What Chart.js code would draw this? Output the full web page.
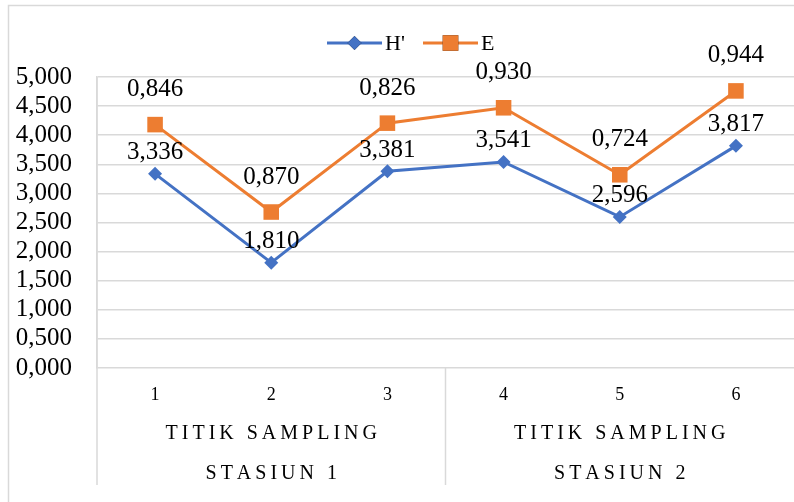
<!DOCTYPE html>
<html>
<head>
<meta charset="utf-8">
<script src="https://cdn.jsdelivr.net/npm/chart.js@4"></script>
<style>
  html, body { margin: 0; padding: 0; background: #fff; }
  #wrap { width: 794px; height: 502px; }
</style>
</head>
<body>
<div id="wrap"><canvas id="chart" width="794" height="502"></canvas></div>
<script>
// data
const titik = ['1', '2', '3', '4', '5', '6'];
const stasiun = ['STASIUN 1', 'STASIUN 2'];
const groupName = 'TITIK SAMPLING';
const groupSize = [3, 3];
const hValues = [3.336, 1.810, 3.381, 3.541, 2.596, 3.817];
const eValues = [0.846, 0.870, 0.826, 0.930, 0.724, 0.944];

const serif = '"Liberation Serif", "Times New Roman", serif';
const gridColour = '#d9d9d9';

function komma(v) {
  return Number(v).toFixed(3).replace('.', ',');
}

// tekst met letterafstand tekenen (voor de categorie-groepen)
function spacedText(ctx, text, cx, cy, spacing) {
  let total = 0;
  const widths = [];
  for (const ch of text) {
    const w = ctx.measureText(ch).width;
    widths.push(w);
    total += w;
  }
  total += spacing * (text.length - 1);
  let x = cx - total / 2;
  ctx.textAlign = 'left';
  let i = 0;
  for (const ch of text) {
    ctx.fillText(ch, x, cy);
    x += widths[i] + spacing;
    i++;
  }
}

const framePlugin = {
  id: 'frame',
  beforeDraw(chart) {
    const ctx = chart.ctx;
    ctx.save();
    ctx.strokeStyle = gridColour;
    ctx.lineWidth = 1.5;
    ctx.beginPath();
    ctx.moveTo(8.5, 510);
    ctx.lineTo(8.5, 5.5);
    ctx.lineTo(800, 5.5);
    ctx.stroke();
    ctx.restore();
  },
  afterDraw(chart) {
    const ctx = chart.ctx;
    const area = chart.chartArea;
    const x = chart.scales.x;
    const bottom = 485;
    ctx.save();
    ctx.strokeStyle = gridColour;
    ctx.lineWidth = 1.5;

    // linker as loopt door tot onder de groepen
    ctx.beginPath();
    ctx.moveTo(area.left, area.top);
    ctx.lineTo(area.left, bottom);
    ctx.stroke();

    // groepen
    let start = 0;
    ctx.fillStyle = '#000';
    ctx.textBaseline = 'middle';
    for (let g = 0; g < groupSize.length; g++) {
      const end = start + groupSize[g] - 1;
      const x1 = x.getPixelForValue(start);
      const x2 = x.getPixelForValue(end);
      const mid = (x1 + x2) / 2;
      ctx.font = '20px ' + serif;
      spacedText(ctx, groupName, mid, 434, 4);
      spacedText(ctx, stasiun[g], mid, 474, 4);
      if (g < groupSize.length - 1) {
        const sep = (x.getPixelForValue(end) + x.getPixelForValue(end + 1)) / 2;
        ctx.beginPath();
        ctx.moveTo(sep, area.bottom);
        ctx.lineTo(sep, bottom);
        ctx.stroke();
      }
      start = end + 1;
    }

    // legenda
    const ds = chart.data.datasets;
    const legend = [
      { x1: 327, x2: 382, tx: 385 },
      { x1: 423, x2: 478, tx: 481 }
    ];
    const ly = 43;
    ctx.font = '22px ' + serif;
    ctx.textAlign = 'left';
    for (let i = 0; i < ds.length; i++) {
      const l = legend[i];
      ctx.strokeStyle = ds[i].borderColor;
      ctx.lineWidth = 3;
      ctx.beginPath();
      ctx.moveTo(l.x1, ly);
      ctx.lineTo(l.x2, ly);
      ctx.stroke();
      Chart.helpers.drawPoint(ctx, {
        pointStyle: ds[i].pointStyle,
        radius: ds[i].pointRadius,
        borderWidth: 0
      }, (l.x1 + l.x2) / 2, ly);
      ctx.fillStyle = ds[i].borderColor;
      ctx.fill();
      ctx.fillStyle = '#000';
      ctx.fillText(ds[i].label, l.tx, ly + 1);
    }
    ctx.restore();
  },
  afterDatasetsDraw(chart) {
    const ctx = chart.ctx;
    ctx.save();
    ctx.font = '25px ' + serif;
    ctx.fillStyle = '#000';
    ctx.textAlign = 'center';
    ctx.textBaseline = 'middle';
    chart.data.datasets.forEach((ds, i) => {
      const meta = chart.getDatasetMeta(i);
      meta.data.forEach((pt, j) => {
        ctx.fillText(komma(ds.data[j]), pt.x, pt.y - ds.labelOffset);
      });
    });
    ctx.restore();
  }
};

new Chart(document.getElementById('chart'), {
  type: 'line',
  data: {
    labels: titik,
    datasets: [{
      label: "H'",
      data: hValues,
      borderColor: '#4472C4',
      backgroundColor: '#4472C4',
      borderWidth: 3,
      pointStyle: 'rectRot',
      pointRadius: 7,
      pointBorderWidth: 0,
      labelOffset: 21,
      fill: false,
      tension: 0
    }, {
      label: 'E',
      data: eValues,
      borderColor: '#ED7D31',
      backgroundColor: '#ED7D31',
      borderWidth: 3,
      pointStyle: 'rect',
      pointRadius: 11,
      pointBorderWidth: 0,
      labelOffset: 35,
      fill: false,
      tension: 0
    }]
  },
  options: {
    responsive: false,
    animation: false,
    devicePixelRatio: 1,
    layout: { autoPadding: false, padding: { top: 77, left: 0, right: 0, bottom: 0 } },
    plugins: {
      legend: { display: false },
      tooltip: { enabled: false }
    },
    scales: {
      x: {
        offset: true,
        grid: { display: false, drawTicks: false },
        border: { display: false },
        ticks: {
          color: '#000',
          font: { family: serif, size: 18 },
          padding: 16,
          maxRotation: 0,
          autoSkip: false
        },
        afterFit(scale) { scale.height = 134; }
      },
      y: {
        stacked: true,
        min: 0,
        max: 5,
        grid: { color: gridColour, lineWidth: 1.5, drawTicks: false },
        border: { display: true, color: gridColour, width: 1.5 },
        ticks: {
          stepSize: 0.5,
          autoSkip: false,
          color: '#000',
          font: { family: serif, size: 25 },
          padding: 25,
          callback: v => komma(v)
        },
        afterFit(scale) { scale.width = 97; }
      }
    }
  },
  plugins: [framePlugin]
});
</script>
</body>
</html>
